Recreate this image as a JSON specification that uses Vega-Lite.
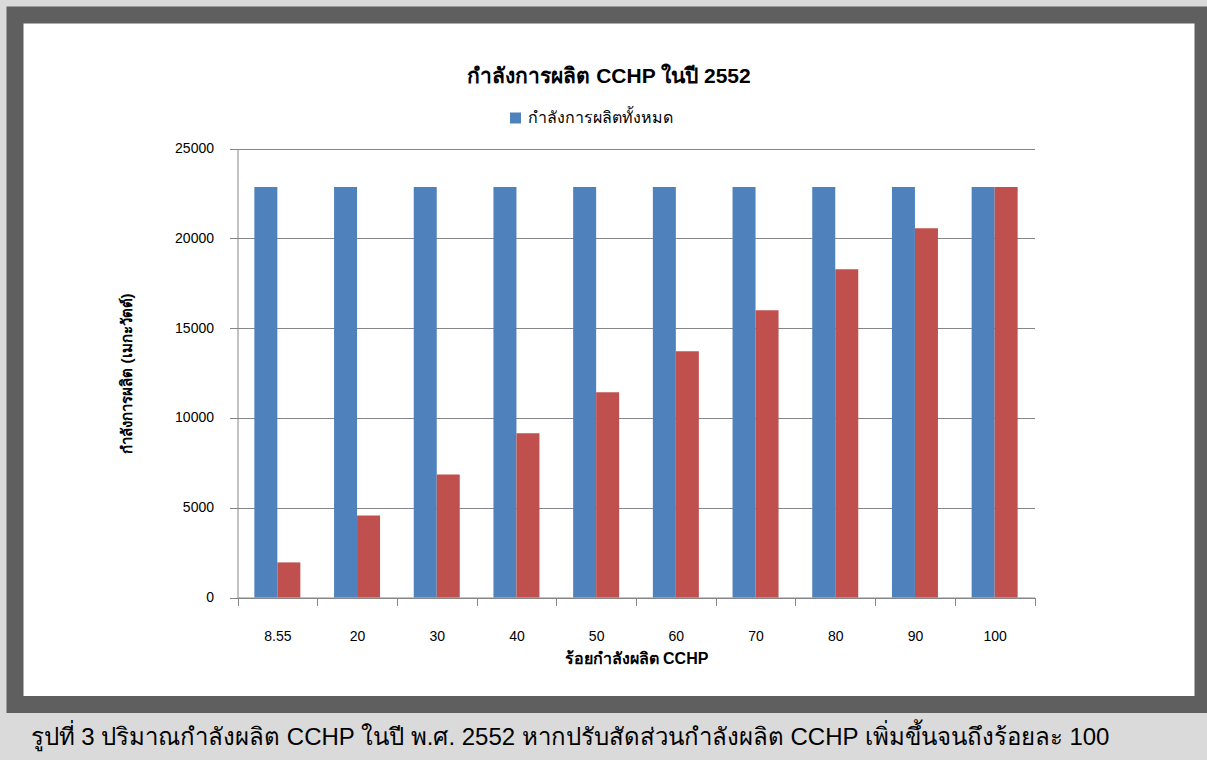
{
  "$schema": "https://vega.github.io/schema/vega-lite/v6.json",
  "background": "#dadada",
  "padding": {"left": 6, "top": 6, "right": 0, "bottom": 30},
  "title": {
    "text": "รูปที่ 3 ปริมาณกำลังผลิต CCHP ในปี พ.ศ. 2552 หากปรับสัดส่วนกำลังผลิต CCHP เพิ่มขึ้นจนถึงร้อยละ 100",
    "orient": "bottom",
    "anchor": "start",
    "frame": "bounds",
    "dx": 24,
    "offset": 13,
    "fontSize": 24,
    "font": "Liberation Sans",
    "fontWeight": "normal",
    "color": "#000000"
  },
  "config": {
    "view": {"stroke": "#5f5f5f", "strokeWidth": 17, "fill": "#ffffff"},
    "font": "Liberation Sans"
  },
  "vconcat": [
    {
      "width": 1188,
      "height": 689.5,
      "title": {
        "text": "กำลังการผลิต CCHP ในปี 2552",
        "frame": "group",
        "anchor": "middle",
        "baseline": "middle",
        "offset": -83,
        "fontSize": 21,
        "fontWeight": "bold",
        "color": "#000000"
      },
      "data": {
        "values": [
          {"pct": "8.55", "series": "กำลังการผลิตทั้งหมด", "mw": 22850},
          {"pct": "8.55", "series": "กำลังการผลิต CCHP", "mw": 1954},
          {"pct": "20", "series": "กำลังการผลิตทั้งหมด", "mw": 22850},
          {"pct": "20", "series": "กำลังการผลิต CCHP", "mw": 4570},
          {"pct": "30", "series": "กำลังการผลิตทั้งหมด", "mw": 22850},
          {"pct": "30", "series": "กำลังการผลิต CCHP", "mw": 6855},
          {"pct": "40", "series": "กำลังการผลิตทั้งหมด", "mw": 22850},
          {"pct": "40", "series": "กำลังการผลิต CCHP", "mw": 9140},
          {"pct": "50", "series": "กำลังการผลิตทั้งหมด", "mw": 22850},
          {"pct": "50", "series": "กำลังการผลิต CCHP", "mw": 11425},
          {"pct": "60", "series": "กำลังการผลิตทั้งหมด", "mw": 22850},
          {"pct": "60", "series": "กำลังการผลิต CCHP", "mw": 13710},
          {"pct": "70", "series": "กำลังการผลิตทั้งหมด", "mw": 22850},
          {"pct": "70", "series": "กำลังการผลิต CCHP", "mw": 15995},
          {"pct": "80", "series": "กำลังการผลิตทั้งหมด", "mw": 22850},
          {"pct": "80", "series": "กำลังการผลิต CCHP", "mw": 18280},
          {"pct": "90", "series": "กำลังการผลิตทั้งหมด", "mw": 22850},
          {"pct": "90", "series": "กำลังการผลิต CCHP", "mw": 20565},
          {"pct": "100", "series": "กำลังการผลิตทั้งหมด", "mw": 22850},
          {"pct": "100", "series": "กำลังการผลิต CCHP", "mw": 22850}
        ]
      },
      "mark": {"type": "bar"},
      "encoding": {
        "x": {
          "field": "pct",
          "type": "nominal",
          "sort": null,
          "scale": {"range": [222.5, 1019.5], "paddingInner": 0, "paddingOuter": 0},
          "axis": {
            "orient": "bottom",
            "offset": -107,
            "tickBand": "extent",
            "labelAngle": 0,
            "grid": false,
            "domainColor": "#868686",
            "tickColor": "#868686",
            "tickSize": 8,
            "labelPadding": 24,
            "labelFontSize": 14,
            "labelColor": "#000000",
            "labelFont": "Liberation Sans",
            "title": "ร้อยกำลังผลิต CCHP",
            "titleFontSize": 16,
            "titleFontWeight": "bold",
            "titleColor": "#000000",
            "titlePadding": 7
          }
        },
        "xOffset": {
          "field": "series",
          "type": "nominal",
          "sort": ["กำลังการผลิตทั้งหมด", "กำลังการผลิต CCHP"],
          "scale": {"paddingInner": 0, "paddingOuter": 0.7326}
        },
        "y": {
          "field": "mw",
          "type": "quantitative",
          "scale": {"domain": [0, 25000], "range": [582.5, 133.5], "nice": false},
          "axis": {
            "orient": "left",
            "offset": -222.5,
            "values": [0, 5000, 10000, 15000, 20000, 25000],
            "format": "d",
            "grid": true,
            "gridColor": "#868686",
            "gridOpacity": 1,
            "domainColor": "#868686",
            "tickColor": "#868686",
            "tickSize": 8,
            "labelPadding": 16,
            "labelFontSize": 14,
            "labelColor": "#000000",
            "title": "กำลังการผลิต (เมกะวัตต์)",
            "titleFontSize": 15,
            "titleFontWeight": "bold",
            "titleColor": "#000000",
            "titlePadding": 40
          }
        },
        "color": {
          "field": "series",
          "type": "nominal",
          "scale": {
            "domain": ["กำลังการผลิตทั้งหมด", "กำลังการผลิต CCHP"],
            "range": ["#4f81bd", "#c0504d"]
          },
          "legend": {
            "values": ["กำลังการผลิตทั้งหมด"],
            "orient": "none",
            "legendX": 492.5,
            "legendY": 95,
            "title": null,
            "symbolType": "square",
            "symbolSize": 121,
            "symbolStrokeWidth": 0,
            "labelFontSize": 16,
            "labelColor": "#000000",
            "padding": 0
          }
        }
      }
    }
  ]
}
